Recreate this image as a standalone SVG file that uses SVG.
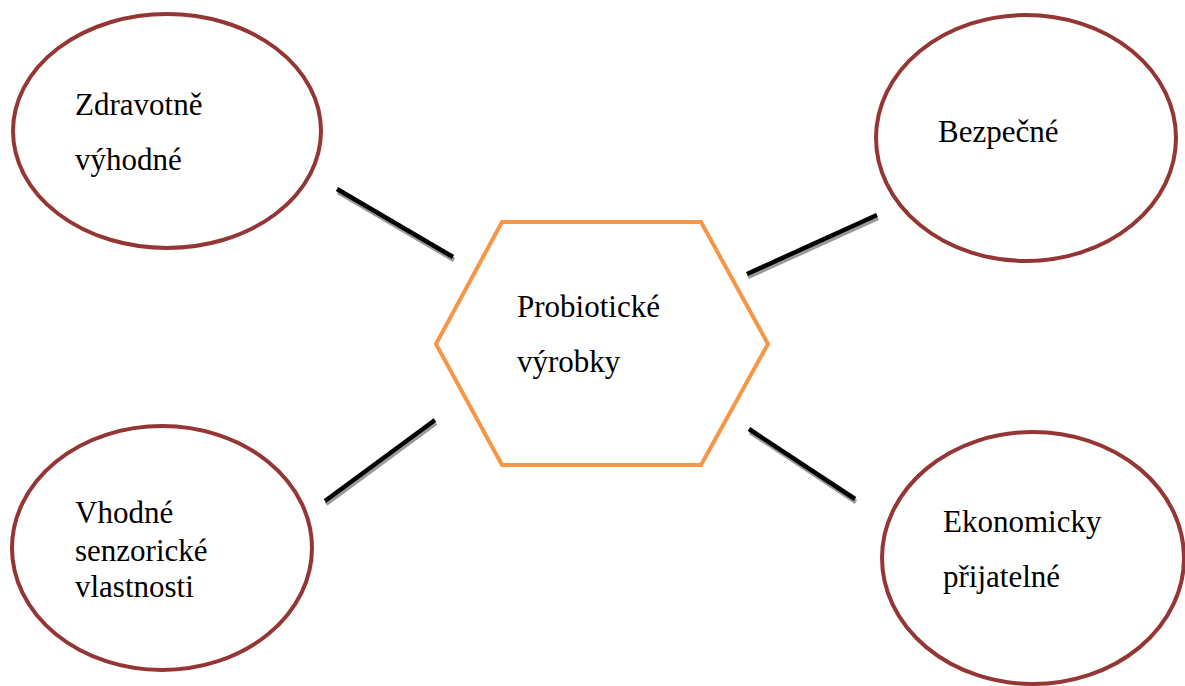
<svg xmlns="http://www.w3.org/2000/svg" width="1185" height="686" viewBox="0 0 1185 686">
<style>
.oval{fill:#fff;stroke:#943634;stroke-width:4}
.hex{fill:#fff;stroke:#F79646;stroke-width:4}
.t{font-family:"Liberation Serif","Times New Roman",serif;font-size:31px;fill:#000}
.ln{stroke:#000;stroke-width:4.5;stroke-linecap:butt}
.sh{stroke:#9a9a9a;stroke-width:4.5;stroke-linecap:butt}
</style>
<rect width="1185" height="686" fill="#fff"/>
<g id="connectors">
<line class="sh" x1="338" y1="192" x2="454" y2="260"/>
<line class="ln" x1="337" y1="189" x2="453" y2="257"/>
<line class="sh" x1="748" y1="277" x2="878" y2="218"/>
<line class="ln" x1="747" y1="274" x2="877" y2="215"/>
<line class="sh" x1="326" y1="504" x2="436" y2="423"/>
<line class="ln" x1="325" y1="501" x2="435" y2="420"/>
<line class="sh" x1="750" y1="432" x2="856" y2="502"/>
<line class="ln" x1="749" y1="429" x2="855" y2="499"/>
</g>
<g id="center">
<polygon class="hex" points="502,222 701,222 768,344 701,465 502,465 436,344"/>
<text class="t" x="517" y="317">Probiotické</text>
<text class="t" x="517" y="372">výrobky</text>
</g>
<g id="zdravotne">
<ellipse class="oval" cx="167" cy="131" rx="154" ry="117"/>
<text class="t" x="75" y="115">Zdravotně</text>
<text class="t" x="75" y="170">výhodné</text>
</g>
<g id="bezpecne">
<ellipse class="oval" cx="1026" cy="138" rx="150" ry="123"/>
<text class="t" x="938" y="142">Bezpečné</text>
</g>
<g id="senzoricke">
<ellipse class="oval" cx="162" cy="548" rx="150" ry="122"/>
<text class="t" x="75" y="523">Vhodné</text>
<text class="t" x="75" y="561">senzorické</text>
<text class="t" x="75" y="597">vlastnosti</text>
</g>
<g id="ekonomicky">
<ellipse class="oval" cx="1033" cy="558" rx="151" ry="126"/>
<text class="t" x="943" y="532">Ekonomicky</text>
<text class="t" x="943" y="587">přijatelné</text>
</g>
</svg>
